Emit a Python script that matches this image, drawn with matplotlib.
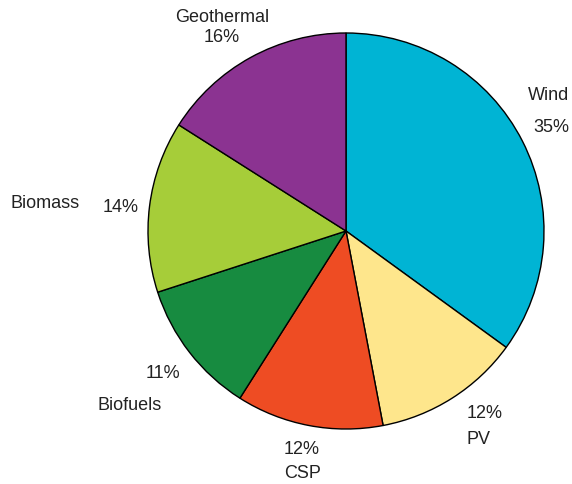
import matplotlib
matplotlib.use("Agg")
import matplotlib.pyplot as plt

sources = ["Wind", "PV", "CSP", "Biofuels", "Biomass", "Geothermal"]
shares = [35, 12, 12, 11, 14, 16]
colors = ["#00B4D4", "#FEE68C", "#EE4C23", "#178B40", "#A6CD39", "#8B3391"]

plt.rcParams['font.family'] = ['Liberation Sans', 'DejaVu Sans']

W, H = 572, 485
cx, cy, r = 346, 232, 198  # pie centre and radius in pixels


def px(x, y):
    # pixel position -> data coords (pie radius = 1)
    return (x - cx) / r, (cy - y) / r


fig = plt.figure(figsize=(W / 100, H / 100), dpi=100)
ax = fig.add_axes([0, 0, 1, 1])
ax.pie(shares, colors=colors, startangle=90, counterclock=False,
       radius=1, wedgeprops=dict(edgecolor="black", linewidth=1.0))
ax.set_xlim(-cx / r, (W - cx) / r)
ax.set_ylim(-(H - cy) / r, cy / r)
ax.set_aspect("auto")
ax.axis("off")

# label text positions (pixel centres)
label_pos = {
    "Wind": [(549, 95), (551, 128)],
    "PV": [(478, 440), (485, 414)],
    "CSP": [(303, 474), (302, 449)],
    "Biofuels": [(130, 405), (163, 373)],
    "Biomass": [(45, 203), (121, 207)],
    "Geothermal": [(222, 17), (222, 37)],
}
for name, val in zip(sources, shares):
    (lx, ly), (vx, vy) = label_pos[name]
    ax.text(*px(lx, ly), name, ha="center", va="center", fontsize=13, color="#222222")
    ax.text(*px(vx, vy), "%d%%" % val, ha="center", va="center", fontsize=13, color="#222222")

fig.savefig("out.png", dpi=100)
